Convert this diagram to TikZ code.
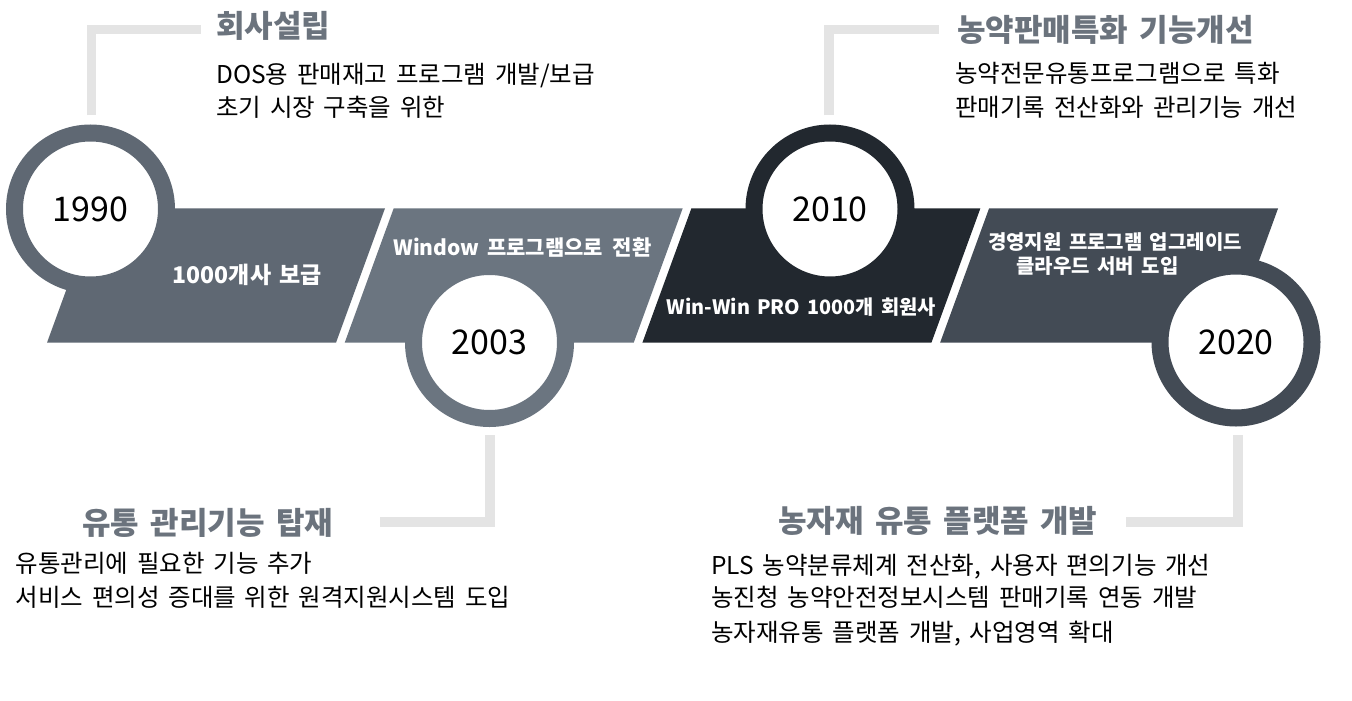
\documentclass[tikz,border=0pt]{standalone}
\usepackage{fontspec}
\setmainfont{Noto Sans CJK KR}[WordSpace=1.6]
\definecolor{segA}{HTML}{5F6873}
\definecolor{segB}{HTML}{6B7580}
\definecolor{segC}{HTML}{22282F}
\definecolor{segD}{HTML}{434B55}
\definecolor{titlegray}{HTML}{6B737D}
\definecolor{linegray}{HTML}{E4E4E4}
\begin{document}
\begin{tikzpicture}[x=1pt,y=-1pt,
  yearnode/.style={circle, minimum size=152pt, inner sep=0pt, fill=white, line width=17pt, text=black, font=\fontsize{34}{38}\selectfont},
  conn/.style={draw=linegray, line width=9.5pt, line cap=butt, line join=miter},
  ttl/.style={anchor=base west, inner sep=0pt, text=titlegray, font=\bfseries\fontsize{31}{35}\selectfont},
  bodytxt/.style={anchor=base west, inner sep=0pt, text=black, font=\fontsize{24.5}{28}\selectfont},
  bandtxt/.style={anchor=base, inner sep=0pt, text=white, font=\bfseries\fontsize{20}{24}\selectfont}]
\useasboundingbox (0,0) rectangle (1352,701);
\fill[white] (0,0) rectangle (1352,701);

% band segments
\fill[segA] (96,208.3) -- (385,208.3) -- (336,342.7) -- (47,342.7) -- cycle;
\fill[segB] (393.7,208.3) -- (682.7,208.3) -- (633.7,342.7) -- (344.7,342.7) -- cycle;
\fill[segC] (691.4,208.3) -- (980.4,208.3) -- (931.4,342.7) -- (642.4,342.7) -- cycle;
\fill[segD] (989.1,208.3) -- (1278.1,208.3) -- (1229.1,342.7) -- (940.1,342.7) -- cycle;

% year circles
\node[yearnode, draw=segA] (y1990) at (90.5,209) {1990};
\node[yearnode, draw=segB] (y2003) at (489.5,342.5) {2003};
\node[yearnode, draw=segC] (y2010) at (830,209) {2010};
\node[yearnode, draw=segD] (y2020) at (1236,342) {2020};

% connectors
\coordinate (a1) at (91.5,115);  \coordinate (a2) at (201,29.5);
\coordinate (b1) at (829,115);   \coordinate (b2) at (939,29.5);
\coordinate (c1) at (490,435);   \coordinate (c2) at (380,522);
\coordinate (d1) at (1238,435);  \coordinate (d2) at (1126,522);
\draw[conn] (a1) |- (a2);
\draw[conn] (b1) |- (b2);
\draw[conn] (c1) |- (c2);
\draw[conn] (d1) |- (d2);

% band texts
\node[bandtxt, font=\bfseries\fontsize{23}{27}\selectfont] (t1) at (247.5,283) {1000개사 보급};
\node[bandtxt, font=\bfseries\fontsize{21}{25}\selectfont] (t2) at (522.5,255) {Window 프로그램으로\hspace{10pt}전환};
\node[bandtxt, font=\bfseries\fontsize{19.8}{24}\selectfont] (t3) at (801.5,314) {Win-Win PRO 1000개 회원사};
\node[bandtxt] (t4a) at (1115,249) {경영지원 프로그램 업그레이드};
\node[bandtxt] (t4b) at (1097.5,273) {클라우드 서버 도입};

% upper-left block
\node[ttl] (h1) at (216,38) {회사설립};
\node[bodytxt] (h1a) at (216,84) {DOS용 판매재고 프로그램 개발/보급};
\node[bodytxt] (h1b) at (216,116) {초기 시장 구축을 위한};

% upper-right block
\node[ttl] (h3) at (957,42) {농약판매특화 기능개선};
\node[bodytxt] (h3a) at (955,82.5) {농약전문유통프로그램으로 특화};
\node[bodytxt] (h3b) at (955,116) {판매기록 전산화와 관리기능 개선};

% lower-left block
\node[ttl] (h2) at (82,534) {유통 관리기능 탑재};
\node[bodytxt] (h2a) at (15.5,572.5) {유통관리에 필요한 기능 추가};
\node[bodytxt] (h2b) at (15.5,606) {서비스 편의성 증대를 위한 원격지원시스템 도입};

% lower-right block
\node[ttl] (h4) at (778,532) {농자재 유통 플랫폼 개발};
\node[bodytxt] (h4a) at (711,574.5) {PLS 농약분류체계 전산화, 사용자 편의기능 개선};
\node[bodytxt] (h4b) at (711,606.5) {농진청 농약안전정보시스템 판매기록 연동 개발};
\node[bodytxt] (h4c) at (711,641) {농자재유통 플랫폼 개발, 사업영역 확대};
\end{tikzpicture}
\end{document}
